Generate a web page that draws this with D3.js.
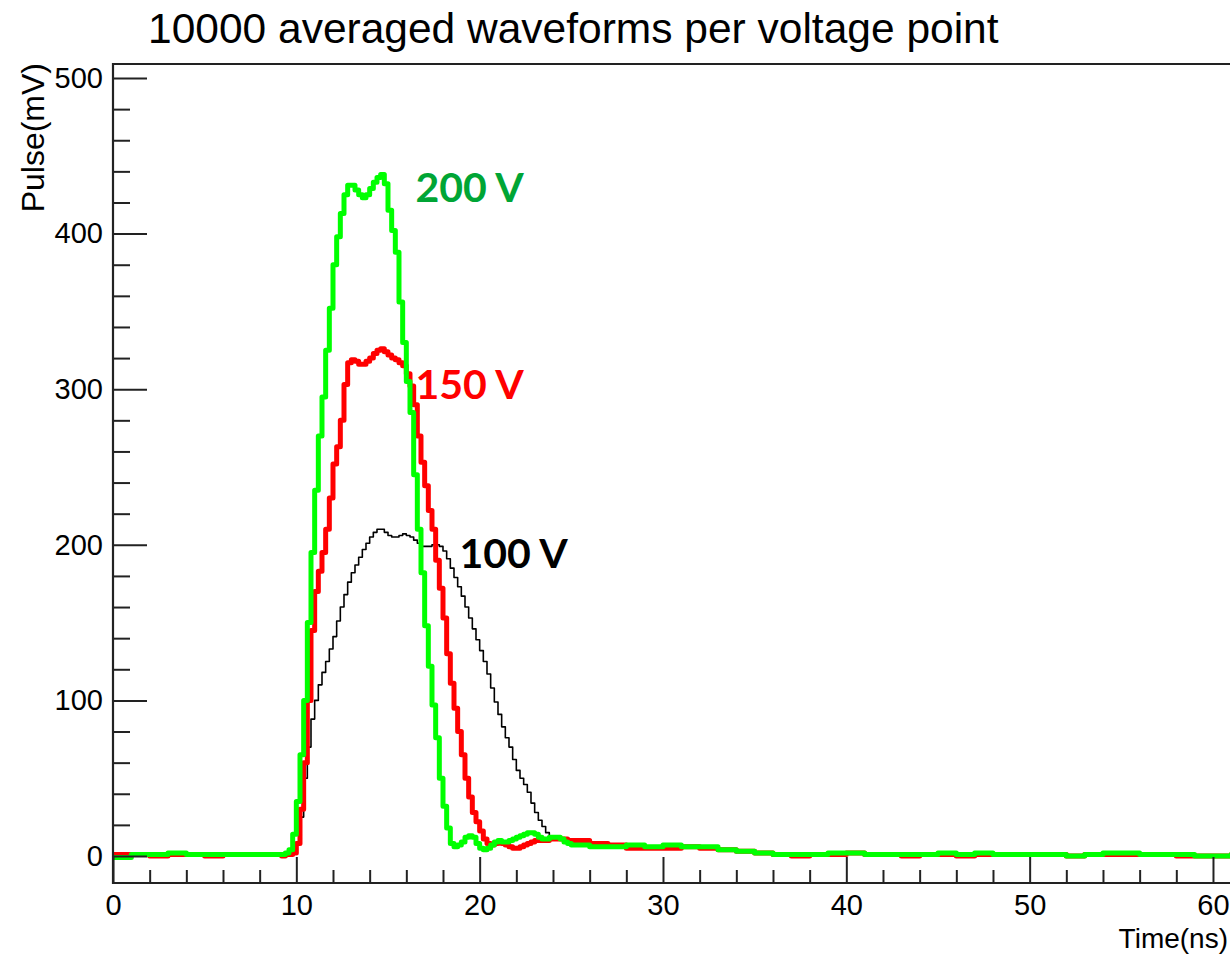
<!DOCTYPE html>
<html><head><meta charset="utf-8">
<script src="https://cdn.jsdelivr.net/npm/d3@7"></script>
<style>body{margin:0;background:#fff}svg{display:block}</style>
</head><body>
<svg id="c" width="1230" height="954"></svg>
<script>
// ---------- data ----------
const titleText = "10000 averaged waveforms per voltage point";
const xTitle = "Time(ns)";
const yTitle = "Pulse(mV)";
const xMajorTicks = [0, 10, 20, 30, 40, 50, 60];
const yMajorTicks = [0, 100, 200, 300, 400, 500];
const seriesNames = ["100 V", "150 V", "200 V"];

// baseline before the pulse, 1 ns samples (t = 0..8 ns)
const preTimes = [0, 1, 2, 3, 4, 5, 6, 7, 8];
const pre100 = [0, 0, 1, 1, 0, 1, 0, 1, 0];
const pre150 = [1, 1, 0, 1, 1, 0, 1, 1, 1];
const pre200 = [-1, 1, 1, 2, 1, 1, 1, 1, 1];

// pulse region, 0.2 ns bins starting at 9.0 ns (one row per ns)
const pulseStart = 9.0, binWidth = 0.2;
const pulse100 = [
  1, 0, 1, 1, 2,
  8, 25, 50, 70, 88,
  100, 110, 118, 125, 133,
  141, 151, 160, 168, 176,
  182, 187, 192, 197, 201,
  205, 208, 210, 210, 208,
  206, 205, 205, 206, 207,
  206, 205, 203, 201, 199,
  199, 199, 200, 200, 199,
  196, 191, 185, 179, 173,
  167, 160, 153, 146, 139,
  132, 125, 117, 108, 99,
  91, 83, 76, 70, 62,
  55, 50, 46, 41, 34,
  28, 23, 19, 15, 13,
  12, 11, 11, 10, 10,
  9];
const pulse150 = [
  1, 0, 1, 1, 2,
  8, 30, 60, 100, 145,
  170, 183, 195, 210, 230,
  252, 263, 280, 303, 317,
  319, 318, 316, 316, 318,
  320, 323, 325, 326, 324,
  322, 320, 319, 317, 315,
  310, 302, 290, 270, 253,
  238, 222, 210, 190, 172,
  153, 130, 111, 95, 80,
  65, 50, 38, 28, 22,
  16, 11, 8, 7, 8,
  9, 8, 7, 6, 5,
  5, 6, 7, 8, 9,
  10, 10, 10, 10, 11,
  11, 11, 11, 11, 10,
  10];
const pulse200 = [
  1, 1, 2, 4, 14,
  35, 65, 100, 150, 195,
  235, 270, 295, 325, 352,
  380, 398, 413, 425, 431,
  431, 428, 425, 423, 425,
  429, 433, 436, 438, 432,
  415, 402, 388, 356, 330,
  305, 285, 245, 210, 182,
  148, 122, 97, 76, 50,
  32, 18, 8, 6, 7,
  9, 12, 13, 12, 8,
  5, 4, 5, 7, 9,
  10, 9, 9, 10, 11,
  12, 13, 14, 15, 15,
  14, 12, 11, 11, 12,
  12, 12, 11, 9, 8,
  7];

// tail after the pulse, 1 ns samples (t = 26..62 ns)
const tailTimes = [26,27,28,29,30,31,32,33,34,35,36,37,38,39,40,41,42,43,44,45,46,47,48,49,50,51,52,53,54,55,56,57,58,59,60,61,62];
const tail100 = [8,7,6,5,5,5,5,4,3,2,1,1,1,1,2,1,1,0,1,1,1,1,1,1,1,1,0,1,1,1,1,1,0,0,0,1,1];
const tail150 = [8,7,5,5,5,6,5,4,3,2,1,0,1,1,2,1,1,0,1,1,0,1,1,1,1,1,0,1,1,1,1,1,0,0,0,1,1];
const tail200 = [6,6,7,6,7,6,6,4,3,2,1,1,1,2,2,1,1,1,1,2,1,2,1,1,1,1,0,1,2,2,1,1,1,0,0,1,1];

// ---------- layout ----------
const svg = d3.select("#c");
const X0 = 113, XPX = 18.333, XMAX = 61.2;
const x = d3.scaleLinear().domain([0, XMAX]).range([X0, X0 + XMAX * XPX]);
const y = d3.scaleLinear().domain([-17.35, 509]).range([883, 64]);
const [pl, pr] = x.range();
const [pb, pt] = y.range();

function build(pre, pulse, tail) {
  const pts = [];
  pre.forEach((v, i) => pts.push([preTimes[i], v]));
  pulse.forEach((v, i) => pts.push([pulseStart + i * binWidth, v]));
  tail.forEach((v, i) => pts.push([tailTimes[i], v]));
  return pts;
}
const series = [
  {name: seriesNames[0], pts: build(pre100, pulse100, tail100), color: "#000000", width: 1.6},
  {name: seriesNames[1], pts: build(pre150, pulse150, tail150), color: "#ff0000", width: 5},
  {name: seriesNames[2], pts: build(pre200, pulse200, tail200), color: "#00ff00", width: 5}
];

svg.append("defs").append("clipPath").attr("id", "clip")
  .append("rect").attr("x", pl).attr("y", pt).attr("width", pr - pl).attr("height", pb - pt);

const line = d3.line().x(d => x(d[0])).y(d => y(d[1])).curve(d3.curveStepAfter);
const g = svg.append("g").attr("clip-path", "url(#clip)");
series.forEach(s => {
  g.append("path").datum(s.pts).attr("d", line)
    .attr("fill", "none").attr("stroke", s.color).attr("stroke-width", s.width)
    .attr("stroke-linejoin", "round").attr("stroke-linecap", "square");
});

// axes
const font = "'Liberation Sans', Arial, sans-serif";
const xMinor = d3.range(0, 62, 2).filter(v => v % 10 !== 0);
const yMinor = d3.range(0, 510, 20).filter(v => v % 100 !== 0);

svg.append("g").attr("transform", `translate(0,${pb})`)
  .call(d3.axisBottom(x).tickValues(xMajorTicks).tickSizeInner(-26).tickSizeOuter(0).tickPadding(11).tickFormat(d3.format("d")));
svg.append("g").attr("transform", `translate(0,${pb})`)
  .call(d3.axisBottom(x).tickValues(xMinor).tickSizeInner(-13).tickSizeOuter(0).tickFormat(""));
svg.append("g").attr("transform", `translate(${pl},0)`)
  .call(d3.axisLeft(y).tickValues(yMajorTicks).tickSizeInner(-34).tickSizeOuter(0).tickPadding(10).tickFormat(d3.format("d")));
svg.append("g").attr("transform", `translate(${pl},0)`)
  .call(d3.axisLeft(y).tickValues(yMinor).tickSizeInner(-17).tickSizeOuter(0).tickFormat(""));

svg.selectAll(".domain").remove();
svg.selectAll(".tick line").attr("stroke", "#222").attr("stroke-width", 2);
svg.selectAll(".tick text").attr("font-family", font).attr("font-size", 29).attr("fill", "#000");

// frame
const frame = svg.append("g").attr("stroke", "#222").attr("stroke-width", 2.2).attr("fill", "none");
frame.append("path").attr("d", `M${pr},${pt}H${pl}V${pb}H${pr}V${pt}`);

// titles
svg.append("text").attr("x", 148).attr("y", 43)
  .attr("font-family", font).attr("font-size", 42.5).attr("fill", "#000").text(titleText);
svg.append("text").attr("transform", `translate(44,63) rotate(-90)`)
  .attr("text-anchor", "end").attr("font-family", font).attr("font-size", 32).attr("fill", "#000").text(yTitle);
svg.append("text").attr("x", 1228).attr("y", 948).attr("text-anchor", "end")
  .attr("font-family", font).attr("font-size", 28).attr("fill", "#000").text(xTitle);

// series labels
const labelFont = "Lato, 'Open Sans', sans-serif";
const labels = [
  {text: seriesNames[2], t: 16.5, v: 420, color: "#00a535"},
  {text: seriesNames[1], t: 16.5, v: 294, color: "#ff0000"},
  {text: seriesNames[0], t: 18.9, v: 185, color: "#000000"}
];
labels.forEach(l => {
  svg.append("text").attr("x", x(l.t)).attr("y", y(l.v))
    .attr("font-family", labelFont).attr("font-weight", 700).attr("font-size", 41)
    .attr("fill", l.color).text(l.text);
});
</script>
</body></html>
